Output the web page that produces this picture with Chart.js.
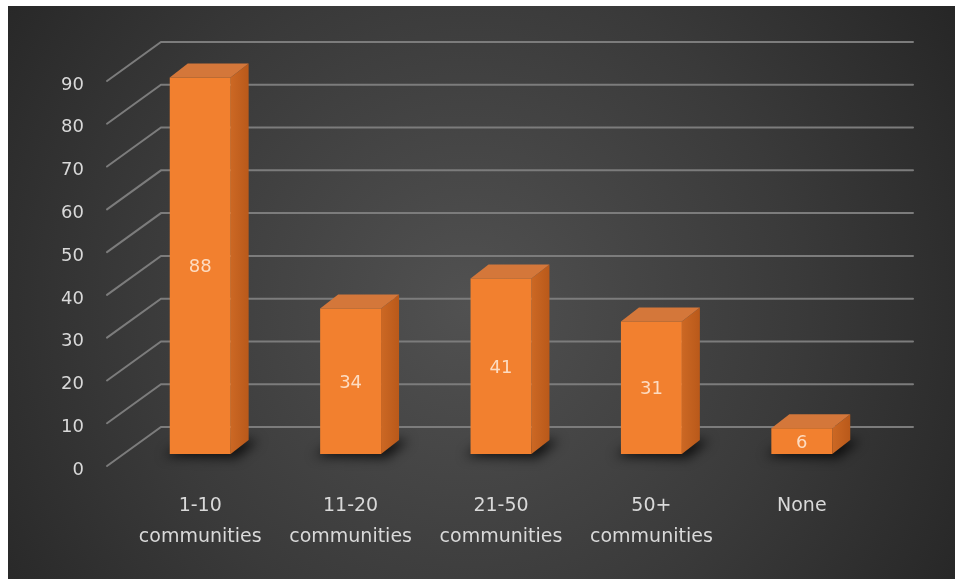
<!DOCTYPE html>
<html>
<head>
  <meta charset="utf-8">
  <title>Communities</title>
  <style>
    body {
      background-color: #ffffff;
      margin: 0;
      padding: 0;
    }
    .chart-container {
      position: absolute;
      left: 8px;
      top: 6px;
      width: 947px;
      height: 573px;
    }
  </style>
  <script src="https://cdn.jsdelivr.net/npm/chart.js"></script>
</head>
<body>
  <div class="chart-container">
    <canvas id="chartCanvas" width="947" height="573"></canvas>
  </div>

  <script>
    // Number of communities served, count of respondents.
    var categories = [
      ['1-10', 'communities'],
      ['11-20', 'communities'],
      ['21-50', 'communities'],
      ['50+', 'communities'],
      ['None']
    ];
    var counts = [88, 34, 41, 31, 6];
    var yMax = 90;
    var yStep = 10;

    // 3D look: how far the bar extrudes backwards, and where the back wall sits.
    var DEPTH_X = 18, DEPTH_Y = -14;
    var WALL_X = 36, WALL_Y = -27;
    var FRONT_X = -18, FRONT_Y = 12;

    var labelColor = '#d9d9d9';
    var gridColor = '#7c7c7c';

    // Dark radial backdrop.
    var backdrop = {
      id: 'backdrop',
      beforeDraw: function(chart) {
        var c = chart.ctx;
        var g = c.createRadialGradient(460, 300, 0, 460, 300, 600);
        g.addColorStop(0, '#515151');
        g.addColorStop(0.55, '#3a3a3a');
        g.addColorStop(1, '#242424');
        c.save();
        c.fillStyle = g;
        c.fillRect(0, 0, chart.width, chart.height);
        c.restore();
      }
    };

    // Back wall grid with the slanted lines leading to the axis labels,
    // then the shadow, side and top of every bar.
    var wallAndBars = {
      id: 'wallAndBars',
      beforeDatasetsDraw: function(chart) {
        var c = chart.ctx;
        var area = chart.chartArea;
        var y = chart.scales.y;
        c.save();
        c.strokeStyle = gridColor;
        c.lineWidth = 2;
        c.lineCap = 'round';
        for (var v = 0; v <= yMax; v += yStep) {
          var py = y.getPixelForValue(v);
          c.beginPath();
          c.moveTo(area.left + FRONT_X, py + FRONT_Y);
          c.lineTo(area.left + WALL_X, py + WALL_Y);
          c.lineTo(area.right + WALL_X, py + WALL_Y);
          c.stroke();
        }

        var meta = chart.getDatasetMeta(0);
        meta.data.forEach(function(bar) {
          var p = bar.getProps(['x', 'y', 'base', 'width'], true);
          var l = p.x - p.width / 2, r = p.x + p.width / 2;
          var top = p.y, bot = p.base;

          // soft shadow round the foot of the bar
          c.save();
          c.filter = 'blur(6px)';
          c.fillStyle = 'rgba(0,0,0,0.75)';
          c.beginPath();
          c.moveTo(l - 6, bot + 2);
          c.lineTo(l + DEPTH_X, bot + DEPTH_Y);
          c.lineTo(r + DEPTH_X + 10, bot + DEPTH_Y);
          c.lineTo(r + 6, bot + 4);
          c.closePath();
          c.fill();
          c.restore();

          // side face
          var side = c.createLinearGradient(r, 0, r + DEPTH_X, 0);
          side.addColorStop(0, '#cc6824');
          side.addColorStop(1, '#b9591a');
          c.fillStyle = side;
          c.beginPath();
          c.moveTo(r, top);
          c.lineTo(r + DEPTH_X, top + DEPTH_Y);
          c.lineTo(r + DEPTH_X, bot + DEPTH_Y);
          c.lineTo(r, bot);
          c.closePath();
          c.fill();

          // top face
          c.fillStyle = '#d4773a';
          c.beginPath();
          c.moveTo(l, top);
          c.lineTo(l + DEPTH_X, top + DEPTH_Y);
          c.lineTo(r + DEPTH_X, top + DEPTH_Y);
          c.lineTo(r, top);
          c.closePath();
          c.fill();
        });
        c.restore();
      },
      afterDatasetsDraw: function(chart) {
        var c = chart.ctx;
        var meta = chart.getDatasetMeta(0);
        c.save();
        c.font = '18px "DejaVu Sans"';
        c.fillStyle = 'rgba(255,236,220,0.85)';
        c.textAlign = 'center';
        c.textBaseline = 'middle';
        meta.data.forEach(function(bar, i) {
          var p = bar.getProps(['x', 'y', 'base'], true);
          c.fillText(String(counts[i]), p.x, (p.y + p.base) / 2 + 2);
        });
        c.restore();
      }
    };

    // Front face: lighter on the left edge.
    function frontFill(context) {
      var el = context.element;
      if (!el || el.width === undefined) return '#f2802f';
      var l = el.x - el.width / 2;
      var g = context.chart.ctx.createLinearGradient(l, 0, l + el.width, 0);
      g.addColorStop(0, '#f7914c');
      g.addColorStop(0.3, '#f4852f');
      g.addColorStop(1, '#ef7a27');
      return g;
    }

    var ctx = document.getElementById('chartCanvas').getContext('2d');
    var communityChart = new Chart(ctx, {
      type: 'bar',
      data: {
        labels: categories,
        datasets: [{
          data: counts,
          backgroundColor: frontFill,
          borderWidth: 0,
          barPercentage: 0.405,
          categoryPercentage: 1
        }]
      },
      options: {
        responsive: false,
        animation: false,
        devicePixelRatio: 1,
        layout: {
          padding: { left: 0, right: 78, top: 63, bottom: 0 }
        },
        plugins: {
          legend: { display: false },
          tooltip: { enabled: false }
        },
        scales: {
          x: {
            grid: { display: false, drawTicks: false, tickLength: 0 },
            border: { display: false },
            ticks: {
              color: labelColor,
              font: { family: 'DejaVu Sans', size: 19, lineHeight: 1.6 },
              padding: 37,
              maxRotation: 0,
              autoSkip: false
            },
            afterFit: function(scale) { scale.height = 125; }
          },
          y: {
            min: 0,
            max: yMax,
            grid: { display: false, drawTicks: false, tickLength: 0 },
            border: { display: false },
            ticks: {
              stepSize: yStep,
              color: labelColor,
              font: { family: 'DejaVu Sans', size: 18 },
              padding: 41,
              labelOffset: FRONT_Y + 4
            },
            afterFit: function(scale) { scale.width = 117; }
          }
        }
      },
      plugins: [backdrop, wallAndBars]
    });
  </script>
</body>
</html>
